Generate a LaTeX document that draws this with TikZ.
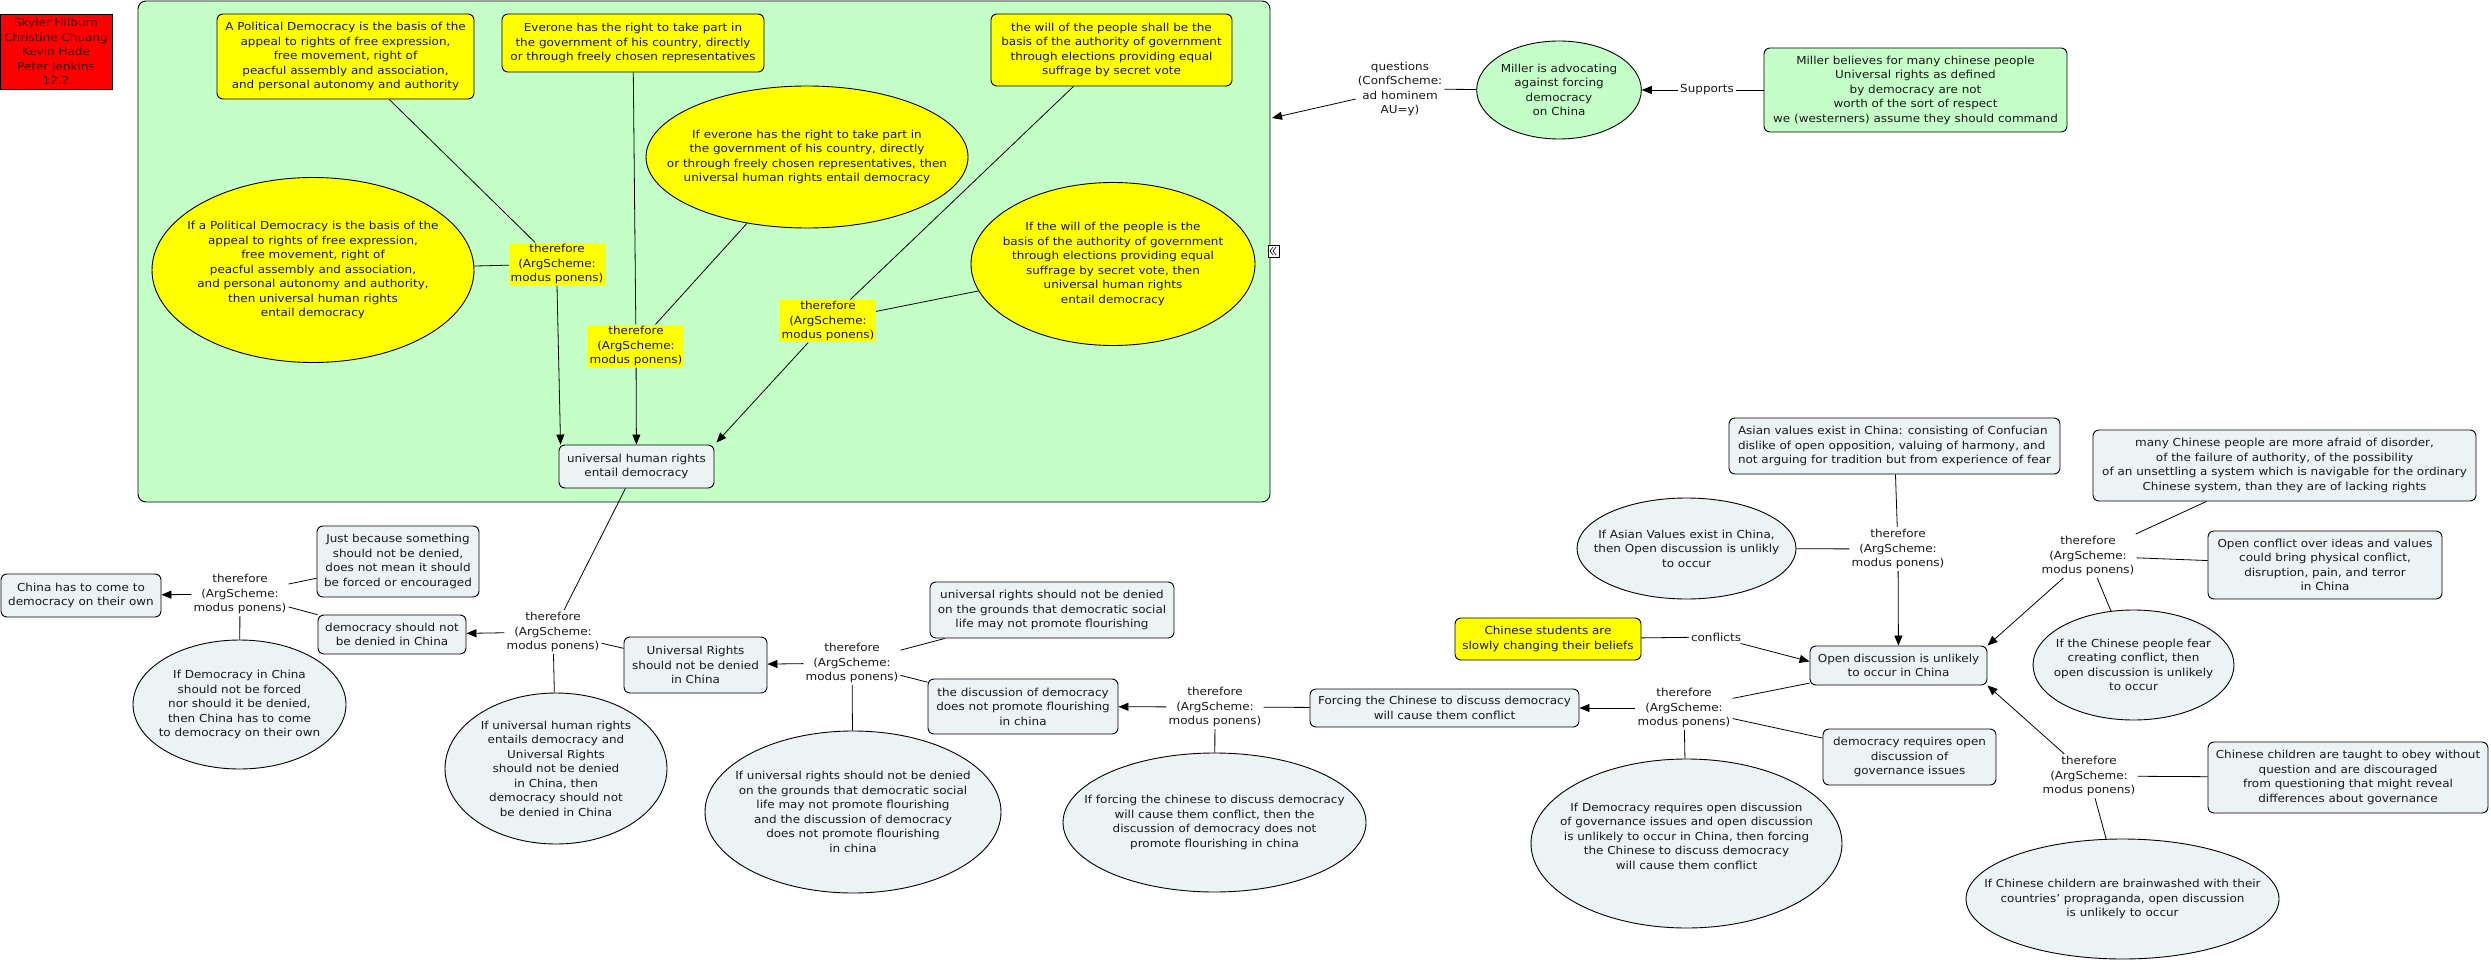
\documentclass[tikz,border=0pt]{standalone}
\usepackage{fontspec}
\setmainfont{DejaVu Sans}[FakeStretch=1.09]
\usetikzlibrary{shapes.geometric,arrows.meta,calc}
\definecolor{cgreen}{RGB}{196,255,200}
\definecolor{cyel}{RGB}{255,255,0}
\definecolor{cgray}{RGB}{235,243,245}
\definecolor{cred}{RGB}{255,0,0}
\tikzset{
 base/.style={font=\fontsize{11}{14.5}\selectfont, align=center, text=black!90},
 rbox/.style={base, draw, rounded corners=6pt, fill=cgray, inner sep=0pt, line width=0.9pt},
 ybox/.style={rbox, fill=cyel},
 gnbox/.style={rbox, fill=cgreen},
 oval/.style={draw, ellipse, fill=cgray, inner sep=0pt, line width=0.9pt},
 yoval/.style={oval, fill=cyel},
 gnoval/.style={oval, fill=cgreen},
 txt/.style={base, inner sep=0pt},
 lab/.style={base, inner sep=2pt},
 ylab/.style={base, fill=cyel, inner sep=1.5pt},
 con/.style={line width=0.8pt},
 arr/.style={con, -{Triangle[length=10pt,width=8pt]}},
}
\begin{document}
\begin{tikzpicture}[x=1pt,y=-1pt]
\fill[white] (0,0) rectangle (2491,965);
\useasboundingbox (0,0) rectangle (2491,965);

% authors
\node[base, text=black!75!red, draw, fill=cred, inner sep=0pt, minimum width=112pt, minimum height=75pt, line width=0.9pt] (red) at (56,51.5)
 {Skyler Hilburn\\Christine Chuang\\Kevin Hade\\Peter Jenkins\\12.2};

% green container
\node[draw, fill=cgreen, rounded corners=8pt, minimum width=1132pt, minimum height=501pt, inner sep=0pt, line width=0.9pt] (G) at (704,251.5) {};
\node[draw, fill=white, inner sep=0pt, minimum width=11pt, minimum height=12pt, line width=0.6pt] (icon) at (1273.5,251) {};
\draw[line width=0.6pt] ($(icon.center)+(-0.5,-4)$) -- ++(-3,4) -- ++(3,4);
\draw[line width=0.6pt] ($(icon.center)+(2.5,-4)$) -- ++(-3,4) -- ++(3,4);

% yellow premises
\node[ybox, minimum width=257pt, minimum height=85pt] (Y1) at (345.5,56.5)
 {A Political Democracy is the basis of the\\appeal to rights of free expression,\\free movement, right of\\peacful assembly and association,\\and personal autonomy and authority};
\node[ybox, minimum width=262pt, minimum height=58pt] (Y2) at (633,43)
 {Everone has the right to take part in\\the government of his country, directly\\or through freely chosen representatives};
\node[ybox, minimum width=241pt, minimum height=72pt] (Y3) at (1111.5,50)
 {the will of the people shall be the\\basis of the authority of government\\through elections providing equal\\suffrage by secret vote};

\node[yoval, minimum width=322pt, minimum height=185pt] (E1) at (313,270) {};
\node[txt] (E1t) at (E1) {If a Political Democracy is the basis of the\\appeal to rights of free expression,\\free movement, right of\\peacful assembly and association,\\and personal autonomy and authority,\\then universal human rights\\entail democracy};
\node[yoval, minimum width=322pt, minimum height=142pt] (E2) at (807,157) {};
\node[txt] (E2t) at (E2) {If everone has the right to take part in\\the government of his country, directly\\or through freely chosen representatives, then\\universal human rights entail democracy};
\node[yoval, minimum width=284pt, minimum height=163pt] (E3) at (1113,264) {};
\node[txt] (E3t) at (E3) {If the will of the people is the\\basis of the authority of government\\through elections providing equal\\suffrage by secret vote, then\\universal human rights\\entail democracy};

\node[ylab] (L1) at (557,264) {therefore\\(ArgScheme:\\modus ponens)};
\node[ylab] (L2) at (636,346) {therefore\\(ArgScheme:\\modus ponens)};
\node[ylab] (L3) at (828,321) {therefore\\(ArgScheme:\\modus ponens)};

\node[rbox, minimum width=155pt, minimum height=43pt] (U) at (636.5,466.5) {universal human rights\\entail democracy};

% Miller
\node[lab] (Q) at (1400,89) {questions\\(ConfScheme:\\ad hominem\\AU=y)};
\node[gnoval, base, minimum width=160pt, minimum height=98pt] (M) at (1559,90) {Miller is advocating\\against forcing\\democracy\\on China};
\node[lab] (S) at (1707,90) {Supports};
\node[gnbox, minimum width=303pt, minimum height=84pt] (MB) at (1915.5,90)
 {Miller believes for many chinese people\\Universal rights as defined\\by democracy are not\\worth of the sort of respect\\we (westerners) assume they should command};
\coordinate (gq) at (1272,118);

% lower left
\node[rbox, minimum width=160pt, minimum height=43pt] (CH) at (81,595.5) {China has to come to\\democracy on their own};
\node[lab] (L1b) at (240,594) {therefore\\(ArgScheme:\\modus ponens)};
\node[rbox, minimum width=162pt, minimum height=71pt] (JB) at (398,561.5) {Just because something\\should not be denied,\\does not mean it should\\be forced or encouraged};
\node[rbox, minimum width=148pt, minimum height=39pt] (DS) at (392,634.5) {democracy should not\\be denied in China};
\node[oval, minimum width=213pt, minimum height=129pt] (E5) at (239.5,704.5) {};
\node[txt] (E5t) at (E5) {If Democracy in China\\should not be forced\\nor should it be denied,\\then China has to come\\to democracy on their own};
\node[lab] (L2b) at (553,632) {therefore\\(ArgScheme:\\modus ponens)};
\node[oval, minimum width=222pt, minimum height=151pt] (E4) at (556,768.5) {};
\node[txt] (E4t) at (E4) {If universal human rights\\entails democracy and\\Universal Rights\\should not be denied\\in China, then\\democracy should not\\be denied in China};
\node[rbox, minimum width=143pt, minimum height=56pt] (UR) at (695.5,665) {Universal Rights\\should not be denied\\in China};
\node[lab] (L3b) at (852,663) {therefore\\(ArgScheme:\\modus ponens)};
\node[rbox, minimum width=244pt, minimum height=56pt] (UB) at (1052,610) {universal rights should not be denied\\on the grounds that democratic social\\life may not promote flourishing};
\node[rbox, minimum width=190pt, minimum height=55pt] (DD) at (1023,706.5) {the discussion of democracy\\does not promote flourishing\\in china};
\node[oval, minimum width=296pt, minimum height=162pt] (E6) at (853,812) {};
\node[txt] (E6t) at (E6) {If universal rights should not be denied\\on the grounds that democratic social\\life may not promote flourishing\\and the discussion of democracy\\does not promote flourishing\\in china};
\node[lab] (L4) at (1215,707) {therefore\\(ArgScheme:\\modus ponens)};
\node[rbox, minimum width=269pt, minimum height=38pt] (FC) at (1444.5,708) {Forcing the Chinese to discuss democracy\\will cause them conflict};
\node[oval, minimum width=303pt, minimum height=139pt] (E7) at (1214.5,822.5) {};
\node[txt] (E7t) at (E7) {If forcing the chinese to discuss democracy\\will cause them conflict, then the\\discussion of democracy does not\\promote flourishing in china};

% right side
\node[lab] (LB) at (1684,708) {therefore\\(ArgScheme:\\modus ponens)};
\node[rbox, minimum width=177pt, minimum height=39pt] (OD) at (1898.5,665.5) {Open discussion is unlikely\\to occur in China};
\node[rbox, minimum width=173pt, minimum height=56pt] (DR) at (1909.5,757) {democracy requires open\\discussion of\\governance issues};
\node[oval, minimum width=311pt, minimum height=169pt] (E8) at (1686.5,843.5) {};
\node[txt] (E8t) at (1686.5,836) {If Democracy requires open discussion\\of governance issues and open discussion\\is unlikely to occur in China, then forcing\\the Chinese to discuss democracy\\will cause them conflict};
\node[ybox, minimum width=186pt, minimum height=42pt] (CS) at (1548,639) {Chinese students are\\slowly changing their beliefs};
\node[lab] (CF) at (1716,637) {conflicts};
\node[rbox, align=left, minimum width=331pt, minimum height=56pt] (AB) at (1894.5,446) {Asian values exist in China: consisting of Confucian\\dislike of open opposition, valuing of harmony, and\\not arguing for tradition but from experience of fear};
\node[oval, minimum width=219pt, minimum height=101pt] (EA) at (1686.5,548.5) {};
\node[txt] (EAt) at (EA) {If Asian Values exist in China,\\then Open discussion is unlikly\\to occur};
\node[lab] (LA) at (1898,549) {therefore\\(ArgScheme:\\modus ponens)};
\node[rbox, minimum width=383pt, minimum height=71pt] (MC) at (2284.5,465.5) {many Chinese people are more afraid of disorder,\\of the failure of authority, of the possibility\\of an unsettling a system which is navigable for the ordinary\\Chinese system, than they are of lacking rights};
\node[rbox, minimum width=234pt, minimum height=68pt] (OC) at (2325,565) {Open conflict over ideas and values\\could bring physical conflict,\\disruption, pain, and terror\\in China};
\node[lab] (LC) at (2088,556) {therefore\\(ArgScheme:\\modus ponens)};
\node[oval, minimum width=201pt, minimum height=110pt] (EF) at (2133.5,665) {};
\node[txt] (EFt) at (EF) {If the Chinese people fear\\creating conflict, then\\open discussion is unlikely\\to occur};
\node[lab] (LD) at (2089,776) {therefore\\(ArgScheme:\\modus ponens)};
\node[rbox, minimum width=280pt, minimum height=71pt] (CC) at (2348,777.5) {Chinese children are taught to obey without\\question and are discouraged\\from questioning that might reveal\\differences about governance};
\node[oval, minimum width=313pt, minimum height=120pt] (EC) at (2122.5,899) {};
\node[txt] (ECt) at (EC) {If Chinese childern are brainwashed with their\\countries' propraganda, open discussion\\is unlikely to occur};

% connectors: green area
\draw[con] (Y1) -- (L1);
\draw[con] (E1) -- (L1);
\draw[arr] (L1.south) -- ($(U.north west)+(2,0)$);
\draw[con] (Y2) -- (L2);
\draw[con] (E2) -- (L2);
\draw[arr] (L2) -- (U);
\draw[con] (Y3) -- (L3);
\draw[con] (E3) -- (L3);
\draw[arr] (L3) -- ($(U.north east)+(2,-2)$);
% Miller
\draw[con] (M) -- (Q);
\draw[arr] (Q) -- (gq);
\draw[con] (MB) -- (S);
\draw[arr] (S) -- (M);
% lower left
\draw[con] (U) -- (L2b);
\draw[arr] (L2b) -- (DS);
\draw[con] (UR) -- (L2b);
\draw[con] (E4) -- (L2b);
\draw[arr] (L1b) -- (CH);
\draw[con] (JB) -- (L1b);
\draw[con] (DS) -- (L1b);
\draw[con] (E5) -- (L1b);
\draw[arr] (L3b) -- (UR);
\draw[con] (UB) -- (L3b);
\draw[con] (DD) -- (L3b);
\draw[con] (E6) -- (L3b);
\draw[arr] (L4) -- (DD);
\draw[con] (FC) -- (L4);
\draw[con] (E7) -- (L4);
% right
\draw[arr] (LB) -- (FC);
\draw[con] (OD) -- (LB);
\draw[con] (DR) -- (LB);
\draw[con] (E8) -- (LB);
\draw[con] (CS) -- (CF);
\draw[arr] (CF) -- ($(OD.west)+(0,-4)$);
\draw[con] (AB) -- (LA);
\draw[con] (EA) -- (LA);
\draw[arr] (LA) -- (OD);
\draw[con] (MC) -- (LC);
\draw[con] (OC) -- (LC);
\draw[con] (EF) -- (LC);
\draw[arr] (LC) -- (OD.north east);
\draw[arr] (LD) -- (OD.south east);
\draw[con] (CC) -- (LD);
\draw[con] (EC) -- (LD);
\end{tikzpicture}
\end{document}
